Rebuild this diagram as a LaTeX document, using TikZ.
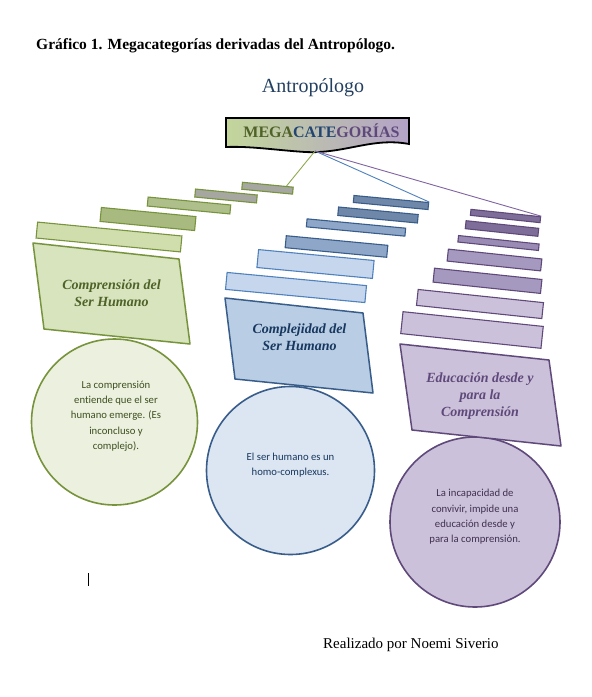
\documentclass[tikz,border=0pt]{standalone}
\usepackage{fontspec}
\setmainfont{Liberation Serif}
\newfontfamily\calibri[Ligatures=NoCommon]{Carlito}
\usepackage{xcolor}
\usepackage{tikz}
\usetikzlibrary{calc,positioning}

\definecolor{verdeBorde}{HTML}{77933C}
\definecolor{verdeGris}{HTML}{A5A7A0}
\definecolor{verdeMedio}{HTML}{AEBF8B}
\definecolor{verdeOscuro}{HTML}{A8BA80}
\definecolor{verdeClaro}{HTML}{D0DEAD}
\definecolor{verdeTrap}{HTML}{D7E4BD}
\definecolor{verdeCirc}{HTML}{EBF1DE}
\definecolor{verdeTexto}{HTML}{4F6228}
\definecolor{verdeLinea}{HTML}{8EAA4F}

\definecolor{azulBorde}{HTML}{385D8A}
\definecolor{azulBordeCl}{HTML}{4F81BD}
\definecolor{azulPizarra}{HTML}{6F87A8}
\definecolor{azulMedio}{HTML}{8EA6C8}
\definecolor{azulClaro}{HTML}{C6D6EC}
\definecolor{azulTrap}{HTML}{B9CDE5}
\definecolor{azulCirc}{HTML}{DCE6F2}
\definecolor{azulTexto}{HTML}{17375E}

\definecolor{moradoBorde}{HTML}{5F497A}
\definecolor{moradoOscuro}{HTML}{7E6D99}
\definecolor{moradoMedio}{HTML}{9A8BB5}
\definecolor{moradoSuave}{HTML}{A699BF}
\definecolor{moradoClaro}{HTML}{CCC1DA}
\definecolor{moradoTexto}{HTML}{3F3151}
\definecolor{moradoLinea}{HTML}{8064A2}

\definecolor{megaVerde}{HTML}{C3D69B}
\definecolor{megaAzul}{HTML}{95B3D7}
\definecolor{megaMorado}{HTML}{B3A2C7}
\definecolor{antroTexto}{HTML}{244061}

\tikzset{
  escalon/.style={rectangle, inner sep=0pt, line width=1.1pt},
  escverde/.style={escalon, rotate=-5.5, draw=verdeBorde},
  escazul/.style={escalon, rotate=-5.4},
  escmorado/.style={escalon, rotate=-6, draw=moradoBorde},
  trapecio/.style={line width=1.5pt, line join=round},
  circulo/.style={circle, line width=1.6pt, inner sep=0pt},
  titcat/.style={font=\fontsize{14}{17}\selectfont\bfseries\itshape, align=center},
  txtcirc/.style={font=\calibri\fontsize{10.7}{15.3}\selectfont, align=center},
  conector/.style={line width=0.9pt}
}

\def\Escalon#1#2#3#4#5#6{%
  \node[#1, minimum width=#4, minimum height=#5, fill=#6] (#2) at #3 {};}

\begin{document}
\begin{tikzpicture}[x=1pt,y=-1pt]
  \path[use as bounding box, fill=white] (0,0) rectangle (592,697);

  % titulos
  \node[anchor=base west, inner sep=0pt, font=\fontsize{15.5}{18}\selectfont\bfseries]
    (titulo) at (36,49) {Gráfico 1. Megacategorías derivadas del Antropólogo.};
  \node[anchor=base, inner sep=0pt, text=antroTexto, font=\fontsize{20}{24}\selectfont]
    (antropologo) at (313,92) {Antropólogo};

  % caja de las megacategorias
  \shadedraw[left color=megaVerde, middle color=megaAzul, right color=megaMorado,
    draw=black, line width=1.8pt]
    (226,118) -- (409,118) -- (409,144) .. controls (372,137) and (345,154) .. (305,152)
    .. controls (275,150) and (250,146) .. (226,147) -- cycle;
  \node[anchor=base, inner sep=0pt, font=\fontsize{16}{19}\selectfont\bfseries] (mega) at (321.5,137)
    {\textcolor{verdeTexto}{MEGA}\textcolor{azulTexto!80!azulBordeCl}{CATE}\textcolor{moradoBorde}{GORÍAS}};
  \coordinate (megapunta) at (315,151);

  % circulos
  \node[circulo, draw=verdeBorde, fill=verdeCirc, minimum size=166pt] (circ1) at (114.5,422) {};
  \node[circulo, draw=azulBorde, fill=azulCirc, minimum size=168pt] (circ2) at (290.5,470.5) {};
  \node[circulo, draw=moradoBorde, fill=moradoClaro, minimum size=170pt] (circ3) at (475,522) {};

  % trapecios
  \draw[trapecio, draw=verdeBorde, fill=verdeTrap] (33,243) -- (179,259) -- (190,344) -- (44,329) -- cycle;
  \draw[trapecio, draw=azulBorde, fill=azulTrap] (225,298) -- (363,313) -- (373,393) -- (235,379) -- cycle;
  \draw[trapecio, draw=moradoBorde, fill=moradoClaro] (400,344) -- (549,360) -- (561,446) -- (412,430) -- cycle;

  % escalones verdes
  \Escalon{escverde}{ver1}{(267.5,188.2)}{51pt}{7pt}{verdeGris}
  \Escalon{escverde}{ver2}{(226,196)}{62pt}{8pt}{verdeGris}
  \Escalon{escverde}{ver3}{(189,205.5)}{83pt}{9pt}{verdeMedio}
  \Escalon{escverde}{ver4}{(148,219)}{95pt}{14pt}{verdeOscuro}
  \Escalon{escverde}{ver5}{(109,237)}{145pt}{16pt}{verdeClaro}

  % escalones azules
  \Escalon{escazul, draw=azulBorde}{azu1}{(391,202.5)}{75pt}{7pt}{azulPizarra}
  \Escalon{escazul, draw=azulBorde}{azu2}{(378,215)}{80pt}{8.5pt}{azulPizarra}
  \Escalon{escazul, draw=azulBorde}{azu3}{(356,227.5)}{99pt}{8pt}{azulMedio}
  \Escalon{escazul, draw=azulBorde}{azu4}{(336.5,246.5)}{102pt}{12pt}{azulMedio}
  \Escalon{escazul, draw=azulBordeCl}{azu5}{(315.5,264)}{116pt}{18pt}{azulClaro}
  \Escalon{escazul, draw=azulBordeCl}{azu6}{(296,287.5)}{140pt}{17pt}{azulClaro}

  % escalones morados
  \Escalon{escmorado}{mor1}{(505.5,216)}{70pt}{6pt}{moradoOscuro}
  \Escalon{escmorado}{mor2}{(502,228.5)}{73pt}{8pt}{moradoOscuro}
  \Escalon{escmorado}{mor3}{(498.5,243)}{81pt}{6.5pt}{moradoMedio}
  \Escalon{escmorado}{mor4}{(494.5,260)}{94pt}{12pt}{moradoSuave}
  \Escalon{escmorado}{mor5}{(487.5,280.8)}{108pt}{14pt}{moradoSuave}
  \Escalon{escmorado}{mor6}{(480,304)}{126pt}{16pt}{moradoClaro}
  \Escalon{escmorado}{mor7}{(472,330)}{141pt}{22pt}{moradoClaro}

  % conectores
  \draw[conector, verdeLinea] (megapunta) -- ($(ver1.north east)!.14!(ver1.north west)$);
  \draw[conector, azulBordeCl] (megapunta) -- (azu1.north east);
  \draw[conector, moradoLinea] (megapunta) -- (mor1.north east);

  % textos de las categorias
  \node[titcat, text=verdeTexto] (cat1) at (111.5,293) {Comprensión del\\Ser Humano};
  \node[titcat, text=azulTexto] (cat2) at (299.5,337) {Complejidad del\\Ser Humano};
  \node[titcat, text=moradoBorde] (cat3) at (480,396) {Educación desde y\\para la\\Comprensión};

  % textos de los circulos
  \node[txtcirc, text=verdeTexto!80!black] (txt1) at (116,416)
    {La comprensión\\entiende que el ser\\humano emerge. (Es\\inconcluso y\\complejo).};
  \node[txtcirc, text=azulTexto] (txt2) at (290.5,465)
    {El ser humano es un\\homo-complexus.};
  \node[txtcirc, text=moradoTexto] (txt3) at (475,517)
    {La incapacidad de\\convivir, impide una\\educación desde y\\para la comprensión.};

  % pie
  \draw[line width=0.8pt] (88,573) -- (88,586);
  \node[anchor=base west, inner sep=0pt, font=\fontsize{15}{18}\selectfont]
    (autora) at (323,648) {Realizado por Noemi Siverio};
\end{tikzpicture}
\end{document}
